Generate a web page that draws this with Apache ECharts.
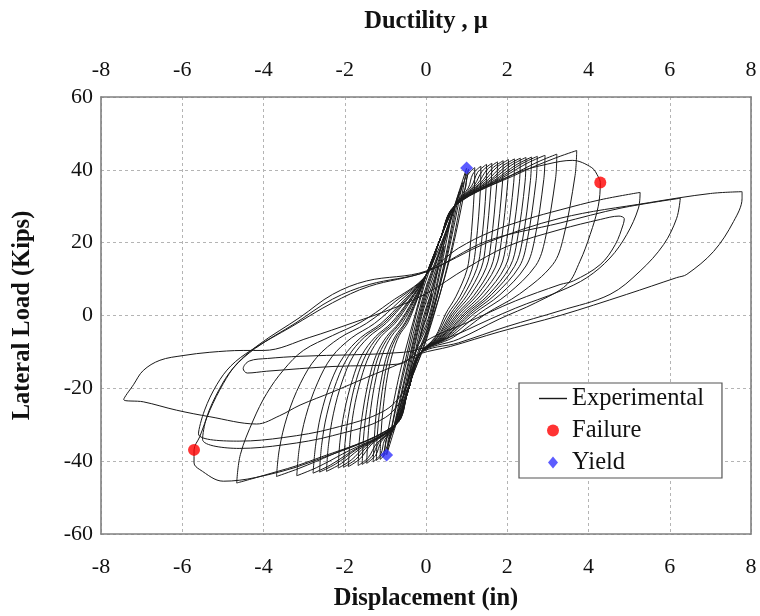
<!DOCTYPE html>
<html>
<head>
<meta charset="utf-8">
<script src="https://cdn.jsdelivr.net/npm/echarts@6.0.0/dist/echarts.min.js"></script>
<style>
html,body{margin:0;padding:0;background:#fff;}
#chart{width:760px;height:616px;}
</style>
</head>
<body>
<div id="chart"></div>
<script>
// Displacement (in), Lateral Load (kips) pairs
const elasticCycles = [
  [0,0],[0.15,6],[0.05,1],[-0.05,-2],[-0.15,-6],[-0.05,-1],[0.05,3],
  [0.3,13],[0.15,5],[0,-1],[-0.15,-6],[-0.3,-12],[-0.15,-4],[0,2],[0.15,7],
  [0.45,19],[0.25,8],[0.05,-1],[-0.2,-8],[-0.45,-18],[-0.25,-7],[-0.05,2],[0.2,10],
  [0.6,26],[0.35,12],[0.05,-2],[-0.25,-10],[-0.6,-24],[-0.35,-11],[-0.05,3],[0.25,13],
  [0.72,30],[0.42,13],[0.05,-3],[-0.3,-13],[-0.72,-28],[-0.42,-13],[-0.05,4],[0.3,16],
  [0.82,34],[0.48,15],[0.05,-4],[-0.35,-15],[-0.82,-32],[-0.48,-15],[-0.05,5],[0.35,18],
  [0.9,36.5],[0.52,16],[0,-5],[-0.4,-17],[-0.92,-35],[-0.55,-16],[-0.05,6],[0.4,20],
  [1.0,40.5],[0.6,17],[0,-7],[-0.45,-20],[-0.97,-38.3],[-0.6,-17],[-0.05,8],[0.45,22],
  [1.05,40.2],[0.62,17],[-0.05,-8],[-0.48,-21],[-1.05,-38.8],[-0.65,-16],[-0.1,7],[0,11]
];

const inelasticCycles = [
  [0.35,21],[0.7,30],[0.96,34.6],[1.02,38.4],[1.2,40.6],
  [1.19,34.5],[1.09,19.1],[1.01,12.6],[0.74,5.3],[0.48,0.4],[0.22,-6],[-0.15,-10.5],
  [-0.45,-21],[-0.75,-30],[-0.92,-33.5],[-0.96,-37.3],[-1.13,-39.5],
  [-1.11,-32.8],[-1.05,-24.9],[-0.95,-16.6],[-0.82,-10.3],[-0.66,-5.5],[-0.45,-2],[-0.23,4],[0,11],

  [0.35,21],[0.7,30],[1.04,35],[1.15,38.8],[1.35,41],
  [1.34,34.9],[1.23,19.3],[1.13,12.7],[0.84,5.3],[0.54,0.4],[0.24,-6],[-0.15,-10.5],
  [-0.45,-21],[-0.75,-30],[-0.97,-33.8],[-1.04,-37.6],[-1.22,-39.8],
  [-1.2,-33],[-1.13,-25.1],[-1.02,-16.7],[-0.89,-10.3],[-0.71,-5.6],[-0.49,-2],[-0.24,4],[0,11],

  [0.35,21],[0.7,30],[1.12,35.5],[1.27,39.3],[1.49,41.5],
  [1.48,35.3],[1.36,19.5],[1.25,12.9],[0.92,5.4],[0.6,0.4],[0.27,-6],[-0.15,-10.5],
  [-0.45,-21],[-0.75,-30],[-1.02,-34.2],[-1.11,-38],[-1.3,-40.2],
  [-1.27,-33.4],[-1.21,-25.3],[-1.09,-16.9],[-0.95,-10.5],[-0.75,-5.6],[-0.52,-2],[-0.26,4],[0,11],

  [0.35,21],[0.7,30],[1.19,35.8],[1.38,39.6],[1.62,41.8],
  [1.6,35.5],[1.47,19.6],[1.36,13],[1.0,5.4],[0.65,0.4],[0.29,-6],[-0.15,-10.5],
  [-0.45,-21],[-0.75,-30],[-1.1,-34.6],[-1.24,-38.4],[-1.46,-40.6],
  [-1.43,-33.7],[-1.36,-25.6],[-1.23,-17.1],[-1.07,-10.6],[-0.85,-5.7],[-0.58,-2],[-0.29,4],[0,11],

  [0.35,21],[0.7,30],[1.27,36.2],[1.5,40],[1.76,42.2],
  [1.74,35.9],[1.6,19.8],[1.48,13.1],[1.09,5.5],[0.7,0.4],[0.32,-6],[-0.15,-10.5],
  [-0.45,-21],[-0.75,-30],[-1.16,-34.9],[-1.33,-38.7],[-1.57,-40.9],
  [-1.54,-33.9],[-1.46,-25.8],[-1.32,-17.2],[-1.15,-10.6],[-0.91,-5.7],[-0.63,-2],[-0.31,4],[0,11],

  [0.35,21],[0.7,30],[1.35,36.5],[1.62,40.3],[1.9,42.5],
  [1.88,36.1],[1.73,20],[1.6,13.2],[1.18,5.5],[0.76,0.4],[0.34,-6],[-0.15,-10.5],
  [-0.45,-21],[-0.75,-30],[-1.22,-35.2],[-1.42,-39],[-1.67,-41.2],
  [-1.64,-34.2],[-1.55,-26],[-1.4,-17.3],[-1.22,-10.7],[-0.97,-5.8],[-0.67,-2.1],[-0.33,4],[0,11],

  [0.35,21],[0.7,30],[1.42,36.8],[1.73,40.6],[2.03,42.8],
  [2.01,36.4],[1.85,20.1],[1.71,13.3],[1.26,5.6],[0.81,0.4],[0.37,-6],[-0.15,-10.5],
  [-0.45,-21],[-0.75,-30],[-1.35,-35.5],[-1.62,-39.3],[-1.91,-41.5],
  [-1.87,-34.4],[-1.78,-26.1],[-1.6,-17.4],[-1.39,-10.8],[-1.11,-5.8],[-0.76,-2.1],[-0.38,4],[0,11],

  [0.35,21],[0.7,30],[1.5,37],[1.85,40.8],[2.18,43],
  [2.16,36.6],[1.98,20.2],[1.83,13.3],[1.35,5.6],[0.87,0.4],[0.39,-6],[-0.15,-10.5],
  [-0.45,-21],[-0.75,-30],[-1.42,-35.7],[-1.73,-39.5],[-2.03,-41.7],
  [-1.99,-34.6],[-1.89,-26.3],[-1.71,-17.5],[-1.48,-10.8],[-1.18,-5.8],[-0.81,-2.1],[-0.41,4],[0,11],

  [0.35,21],[0.7,30],[1.58,37.2],[1.97,41],[2.32,43.2],
  [2.3,36.7],[2.11,20.3],[1.95,13.4],[1.44,5.6],[0.93,0.4],[0.42,-6],[-0.15,-10.5],
  [-0.45,-21],[-0.75,-30],[-1.49,-35.9],[-1.84,-39.7],[-2.16,-41.9],
  [-2.12,-34.8],[-2.01,-26.4],[-1.81,-17.6],[-1.58,-10.9],[-1.25,-5.9],[-0.86,-2.1],[-0.43,4],[0,11],

  [0.35,21],[0.7,30],[1.65,37.4],[2.09,41.2],[2.46,43.4],
  [2.44,36.9],[2.24,20.4],[2.07,13.5],[1.53,5.6],[0.98,0.4],[0.44,-6],[-0.15,-10.5],
  [-0.45,-21],[-0.75,-30],[-1.65,-36.8],[-2.08,-40.6],[-2.45,-42.8],
  [-2.4,-35.5],[-2.28,-27],[-2.06,-18],[-1.79,-11.1],[-1.42,-6],[-0.98,-2.1],[-0.49,4],[0,11],

  [0.35,21],[0.7,30],[1.73,37.5],[2.21,41.3],[2.6,43.5],
  [2.57,37],[2.37,20.4],[2.18,13.5],[1.61,5.7],[1.04,0.4],[0.47,-6],[-0.15,-10.5],
  [-0.45,-21],[-0.75,-30],[-1.74,-37],[-2.23,-40.8],[-2.62,-43],
  [-2.57,-35.7],[-2.44,-27.1],[-2.2,-18.1],[-1.91,-11.2],[-1.52,-6],[-1.05,-2.2],[-0.52,4],[0,11],

  [0.35,21],[0.7,30],[1.81,37.7],[2.33,41.5],[2.74,43.7],
  [2.71,37.1],[2.49,20.5],[2.3,13.5],[1.7,5.7],[1.1,0.4],[0.49,-6],[-0.15,-10.5],
  [-0.45,-21],[-0.75,-30],[-1.83,-37.3],[-2.36,-41.1],[-2.78,-43.3],
  [-2.72,-35.9],[-2.59,-27.3],[-2.34,-18.2],[-2.03,-11.3],[-1.61,-6.1],[-1.11,-2.2],[-0.56,4],[0,11],

  [0.35,21],[0.7,30],[1.91,38],[2.49,41.8],[2.93,44],
  [2.9,37.4],[2.67,20.7],[2.46,13.6],[1.82,5.7],[1.17,0.4],[0.53,-6],[-0.15,-10.5],
  [-0.45,-21],[-0.75,-30],[-2.05,-38],[-2.7,-41.8],[-3.18,-44],
  [-3.12,-36.5],[-2.96,-27.7],[-2.67,-18.5],[-2.32,-11.4],[-1.84,-6.2],[-1.27,-2.2],[-0.64,4],[0,11],

  [0.35,21],[0.7,30],[2.07,38.3],[2.74,42.1],[3.22,44.3],
  [3.19,37.7],[2.93,20.8],[2.7,13.7],[2.0,5.8],[1.29,0.4],[0.58,-6],[-0.15,-10.5],
  [-0.45,-21],[-0.75,-30],[-2.32,-38.2],[-3.13,-42],[-3.68,-44.2],
  [-3.61,-36.7],[-3.42,-27.8],[-3.09,-18.6],[-2.69,-11.5],[-2.13,-6.2],[-1.47,-2.2],[-0.74,4],[0,11],

  [0.35,21],[0.7,30],[2.34,39.3],[3.15,43.1],[3.71,45.3],
  [3.67,38.5],[3.38,21.3],[3.12,14],[2.3,5.9],[1.48,0.5],[0.67,-6],[-0.15,-10.5],
  [-0.45,-21],[-0.75,-30],[-2.86,-40],[-3.96,-43.8],[-4.66,-46],
  [-4.57,-38.2],[-4.25,-28.7],[-3.92,-21.4],[-3.51,-15],[-3.02,-9.6],[-2.3,-5.5],[-1.6,-1.8],[-0.9,3.5],[0,11]
];

const failureCycle = [
  [0.35,21],[0.7,30],[2.2,39],[3.0,41.6],[3.6,42.6],[4.08,40.6],[4.24,38.1],[4.29,36.5],
  [4.24,30],[4.04,22.2],[3.79,14.9],[3.47,8.5],[2.7,3.5],[1.8,-1],[0.8,-6.5],[-0.15,-10.5],
  [-0.45,-21],[-0.75,-30],[-2.9,-40.5],[-4.2,-44.5],[-4.99,-45.5],[-5.57,-42.3],[-5.71,-40.5],[-5.71,-36.9],
  [-5.57,-33.3],[-5.32,-26],[-4.99,-18.7],[-4.66,-13.3],[-4.09,-7.8],[-3.1,-0.5],[-2.3,5.8],[-1.46,9.5],[0,12.2]
];

const postFailureCycles = [
  [0.8,18.5],[1.6,23],[2.5,26.5],[3.3,29],[4.3,31.8],[5.27,33.8],
  [5.23,29.5],[4.94,22.2],[4.53,15.8],[3.96,10.4],[3.3,6.7],[2.2,2],[1.0,-4],[-0.15,-10.5],
  [-0.45,-20],[-1.0,-28],[-2.3,-33],[-3.5,-35.5],[-4.6,-36.5],[-5.5,-34],
  [-5.4,-28],[-5.1,-20.5],[-4.75,-14.5],[-4.2,-9],[-3.2,-2],[-2.3,4.5],[-1.4,8.5],[0,12],

  [1.49,20.4],[3.3,25.4],[4.8,29.5],[6.26,32.2],
  [6.17,26.7],[5.85,19.5],[5.27,12.2],[4.53,5.8],[3.3,1.3],[2.0,-3],[0.8,-7.5],[-0.15,-10.5],
  [-0.45,-19],[-1.0,-26],[-2.3,-31],[-3.5,-33.5],[-4.6,-34.5],[-5.6,-32.5],
  [-5.45,-26],[-5.15,-19],[-4.8,-13.8],[-4.3,-9.5],[-3.3,-3],[-2.3,3.5],[-1.4,8],[0,12],

  [1.5,20],[3.3,26.7],[5.5,31],[7.0,33.5],[7.78,34],
  [7.78,32.2],[7.57,25.8],[7.08,17.6],[6.42,11.3],[6.17,10.4],[4.94,5.8],[3.3,0],[1.8,-4.5],[0.6,-8.5],[-0.15,-10.5],
  [-0.6,-13],[-1.46,-17],[-2.3,-21],[-3.1,-24.6],[-3.6,-27.5],[-4.17,-29.8],[-5.32,-27.8],[-6.14,-26],[-6.96,-23.7],[-7.44,-23.1],
  [-7.2,-19],[-6.96,-15.1],[-6.55,-12.3],[-5.98,-11],[-5.32,-10.1],[-4.5,-9.6],[-4.0,-9.6],[-2.86,-6],[-1.8,-2],[-0.8,2],[0,6],

  [1.0,13],[2.0,19],[3.3,23.6],[4.3,26.4],[4.75,27.3],[4.88,26.6],[4.86,25.2],[4.66,19.5],[4.29,14],[3.63,9.5],[3.3,8.5],[2.2,4],[1.0,-2],[0,-7],
  [-0.64,-13.3],[-2.29,-14],[-3.92,-15.3],[-4.4,-15.8],[-4.5,-14.6],[-4.35,-12.5],[-3.9,-11.8],[-3.1,-11.2],[-0.55,-10.1],[0.2,-8]
];

const failurePoints = [[4.29,36.5],[-5.71,-36.9]];
const yieldPoints = [[1.0,40.5],[-0.97,-38.3]];

const xRange = [-8, 8];
const yRange = [-60, 60];
const xStep = 2;
const yStep = 20;

const experimental = [].concat(elasticCycles, inelasticCycles, failureCycle, postFailureCycles);

const serif = 'Liberation Serif';
const tickLabel = {fontFamily: serif, fontSize: 22, color: '#111'};
const titleStyle = {fontFamily: serif, fontSize: 24.5, fontWeight: 'bold', color: '#111'};
const borderLine = {show: true, lineStyle: {color: '#808080', width: 1.6}};
const grid = {show: true, lineStyle: {color: '#b4b4b4', type: [3, 3], width: 1}};

const chart = echarts.init(document.getElementById('chart'), null, {renderer: 'canvas'});
chart.setOption({
  backgroundColor: '#fff',
  animation: false,
  grid: {left: 101, right: 9, top: 97, bottom: 78},
  xAxis: [
    {type: 'value', position: 'bottom', min: xRange[0], max: xRange[1], interval: xStep,
     axisLine: Object.assign({onZero: false}, borderLine), axisTick: {show: false},
     axisLabel: Object.assign({margin: 22, showMinLabel: true, showMaxLabel: true}, tickLabel),
     splitLine: grid,
     name: 'Displacement (in)', nameLocation: 'middle', nameGap: 52, nameTextStyle: titleStyle},
    {type: 'value', position: 'top', min: xRange[0], max: xRange[1], interval: xStep,
     axisLine: Object.assign({onZero: false}, borderLine), axisTick: {show: false},
     axisLabel: Object.assign({margin: 16, showMinLabel: true, showMaxLabel: true}, tickLabel),
     splitLine: {show: false},
     name: 'Ductility , μ', nameLocation: 'middle', nameGap: 63, nameTextStyle: titleStyle},
    
  ],
  yAxis: [
    {type: 'value', position: 'left', min: yRange[0], max: yRange[1], interval: yStep,
     axisLine: Object.assign({onZero: false}, borderLine), axisTick: {show: false},
     axisLabel: Object.assign({margin: 8, showMinLabel: true, showMaxLabel: true}, tickLabel),
     splitLine: grid,
     name: 'Lateral Load (Kips)', nameLocation: 'middle', nameGap: 66, nameTextStyle: titleStyle},
    {type: 'value', position: 'right', min: yRange[0], max: yRange[1], interval: yStep,
     axisLine: Object.assign({onZero: false}, borderLine), axisTick: {show: false},
     axisLabel: {show: false}, splitLine: {show: false}}
  ],
  legend: {
    orient: 'vertical', left: 519, top: 383,
    padding: [3, 18, 3, 20], itemGap: 7, itemWidth: 28, itemHeight: 12,
    backgroundColor: '#fff', borderColor: '#555', borderWidth: 1.2,
    textStyle: {fontFamily: serif, fontSize: 24.5, color: '#111'},
    data: [
      {name: 'Experimental', icon: 'path://M0,0 L28,0 L28,1.4 L0,1.4 Z'},
      {name: 'Failure', icon: 'circle'},
      {name: 'Yield', icon: 'path://M6,0 L11,6 L6,12 L1,6 Z'}
    ]
  },
  series: [
    {name: 'Experimental', type: 'line', data: experimental, symbol: 'none', smooth: 0.35,
     lineStyle: {color: '#1a1a1a', width: 1}, itemStyle: {color: '#1a1a1a'}, z: 2},
    {name: 'Failure', type: 'scatter', data: failurePoints, symbol: 'circle', symbolSize: 12,
     itemStyle: {color: '#ff0000'}, z: 5},
    {name: 'Yield', type: 'scatter', data: yieldPoints, symbol: 'diamond', symbolSize: 13,
     itemStyle: {color: '#3333ff'}, z: 5}
  ]
});
</script>
</body>
</html>
